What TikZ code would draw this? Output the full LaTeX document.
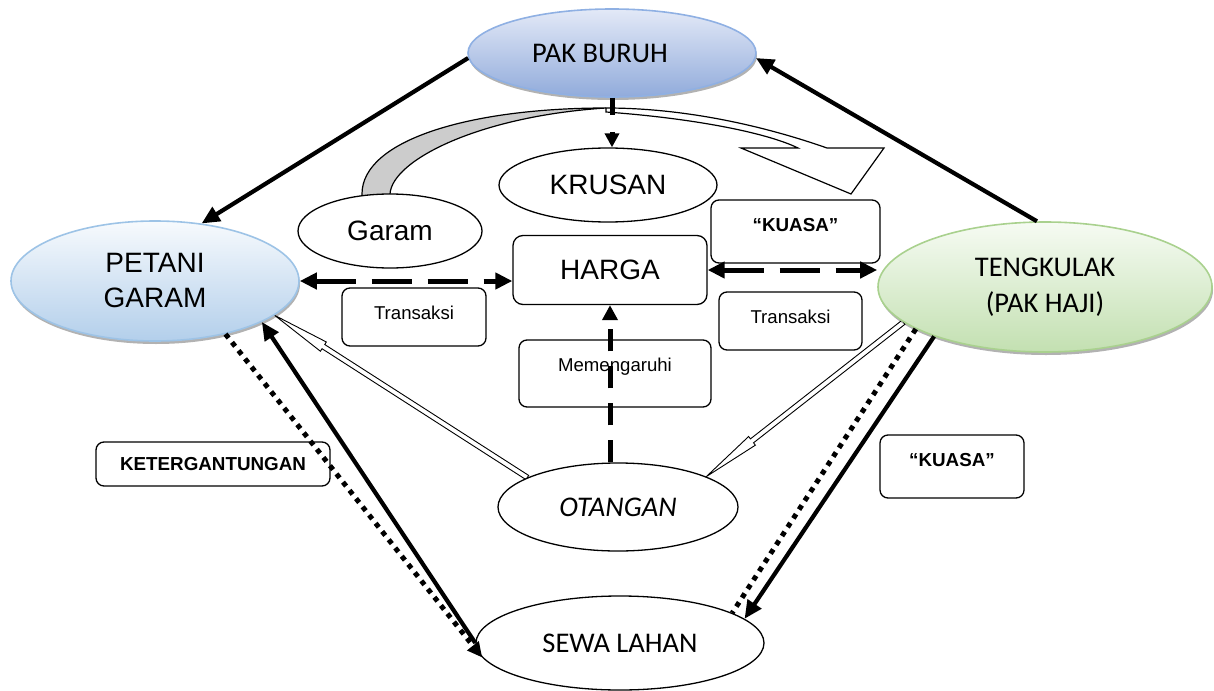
\documentclass[tikz,border=0pt]{standalone}
\usepackage{fontspec}
\setmainfont{Liberation Sans}
\newfontfamily\calfont{Carlito}
\usetikzlibrary{arrows.meta,shapes.geometric,shadows,calc}
\pgfdeclarelayer{bg}
\pgfsetlayers{bg,main}

\definecolor{buruhTop}{HTML}{E3E9F7}
\definecolor{buruhBot}{HTML}{91ABDB}
\definecolor{buruhLine}{HTML}{8FB0E3}
\definecolor{petTop}{HTML}{F7FAFD}
\definecolor{petBot}{HTML}{B3CFEB}
\definecolor{petLine}{HTML}{9DC3E6}
\definecolor{tenTop}{HTML}{F6FBF3}
\definecolor{tenBot}{HTML}{C3E0B1}
\definecolor{tenLine}{HTML}{A9D18E}
\definecolor{bandgray}{HTML}{CCCCCC}

\newcommand\hollowarrow[2]{%
  \coordinate (ha-n) at ($(#2)!58pt!(#1)$);
  \filldraw[fill=white, line width=0.9pt, line join=miter]
    ($(#1)!2.5pt!90:(#2)$) -- ($(ha-n)!2.5pt!90:(#2)$) -- ($(ha-n)!5.5pt!90:(#2)$) -- (#2)
    -- ($(ha-n)!5.5pt!-90:(#2)$) -- ($(ha-n)!2.5pt!-90:(#2)$) -- ($(#1)!2.5pt!-90:(#2)$) -- cycle;}

\tikzset{
  bigtext/.style={font=\fontsize{28}{35}\selectfont},
  caltext/.style={font=\calfont\fontsize{28.5}{36}\selectfont},
  calitext/.style={font=\calfont\itshape\fontsize{28.5}{36}\selectfont},
  plainell/.style={ellipse, draw, line width=1.3pt, fill=white, inner sep=0pt},
  colell/.style={ellipse, draw, line width=1.6pt, inner sep=0pt, align=center,
    drop shadow={shadow xshift=1pt, shadow yshift=-3pt, opacity=0.3, fill=black}},
  smallbox/.style={rectangle, draw, rounded corners=8pt, line width=1.3pt, inner sep=0pt,
    font=\fontsize{18.6}{22}\selectfont},
  smallboxbold/.style={smallbox, font=\bfseries\fontsize{18.8}{22}\selectfont},
  thickarrow/.style={line width=4.2pt, -{Triangle[length=18pt,width=16pt]}},
  dasharrow/.style={line width=5pt, dash pattern=on 40pt off 16pt,
    {Triangle[length=17pt,width=16pt]}-{Triangle[length=17pt,width=16pt]}},
  vdasharrow/.style={line width=5pt, dash pattern=on 22pt off 15pt, -{Triangle[length=15pt,width=15pt]}},
  sdasharrow/.style={line width=5pt, dash pattern=on 17pt off 17pt, -{Triangle[length=14pt,width=14pt]}},
  dotline/.style={line width=5pt, dash pattern=on 5pt off 5.5pt},
}

\begin{document}
\begin{tikzpicture}[x=1pt, y=-1pt]
\useasboundingbox (0,0) rectangle (1214,690);

% ellipses
\node[colell, top color=buruhTop, bottom color=buruhBot, draw=buruhLine,
  minimum width=288pt, minimum height=88pt, caltext] (buruh) at (612,53) {PAK BURUH\hspace*{24pt}};
\node[colell, top color=petTop, bottom color=petBot, draw=petLine,
  minimum width=288pt, minimum height=120pt, bigtext] (petani) at (155,281) {PETANI\\GARAM};
\node[colell, top color=tenTop, bottom color=tenBot, draw=tenLine,
  minimum width=334pt, minimum height=130pt, caltext] (teng) at (1045,287) {TENGKULAK\\(PAK HAJI)};
\node[plainell, minimum width=218pt, minimum height=74pt, bigtext] (krusan) at (608,185) {KRUSAN};
\node[plainell, minimum width=184pt, minimum height=74pt, bigtext] (garam) at (390,231) {Garam};
\node[rectangle, draw, rounded corners=10pt, line width=1.3pt, minimum width=194pt,
  minimum height=69pt, bigtext] (harga) at (610,270) {HARGA};
\node[plainell, minimum width=240pt, minimum height=88pt, calitext] (otangan) at (618,507) {OTANGAN};
\node[plainell, minimum width=288pt, minimum height=94pt, caltext] (sewa) at (620,643) {SEWA LAHAN};

% small boxes
\node[smallboxbold, minimum width=169pt, text height=31.5pt, text depth=31.5pt] (kuasa1) at (795.5,231.5) {“KUASA”};
\node[smallbox, minimum width=143pt, text height=31.5pt, text depth=26.5pt] (trans2) at (790.5,321) {Transaksi};
\node[smallbox, minimum width=144pt, text height=31.5pt, text depth=26.5pt] (trans1) at (414,317) {Transaksi};
\node[smallbox, minimum width=192pt, text height=31.5pt, text depth=35.5pt] (memeng) at (615,373.5) {Memengaruhi};
\node[smallboxbold, minimum width=234pt, minimum height=44pt] (keter) at (213,464) {KETERGANTUNGAN};
\node[smallboxbold, minimum width=144pt, text height=31.5pt, text depth=31.5pt] (kuasa2) at (952,466.5) {“KUASA”};

% background shapes
\begin{pgfonlayer}{bg}
  \filldraw[fill=bandgray, line width=1.2pt]
    (362,205) -- (362,194) .. controls (362,140) and (470,108) .. (606,108)
    .. controls (480,116) and (392,160) .. (390,194) -- (390,205) -- cycle;
  \filldraw[fill=white, line width=1.2pt, line join=miter]
    (606,108) .. controls (690,108) and (770,128) .. (827,148) -- (884,148) -- (851,194)
    -- (741,148) -- (798,148) .. controls (765,132) and (690,118) .. (606,112) -- cycle;
  \hollowarrow{otangan.162}{petani.-16}
  \hollowarrow{teng.194}{otangan.19}
\end{pgfonlayer}

% connectors
\draw[thickarrow] (buruh.182) -- (petani.51);
\draw[thickarrow] (teng.97) -- (buruh.-2);
\draw[sdasharrow] (buruh.south) -- (buruh.south |- krusan.north);
\draw[dasharrow] (petani.east) -- (harga.west |- petani.east);
\draw[dasharrow] (harga.east) -- (teng.west |- harga.east);
\draw[vdasharrow] (otangan.north -| harga.south) -- (harga.south);
\draw[thickarrow] (sewa.west) -- (petani.-21);
\draw[dotline, -{Triangle[length=15pt,width=14pt]}] (petani.-37) -- (sewa.186);
\draw[thickarrow] (teng.204) -- (sewa.11);
\draw[dotline] (teng.198) -- (sewa.15);
\end{tikzpicture}
\end{document}
